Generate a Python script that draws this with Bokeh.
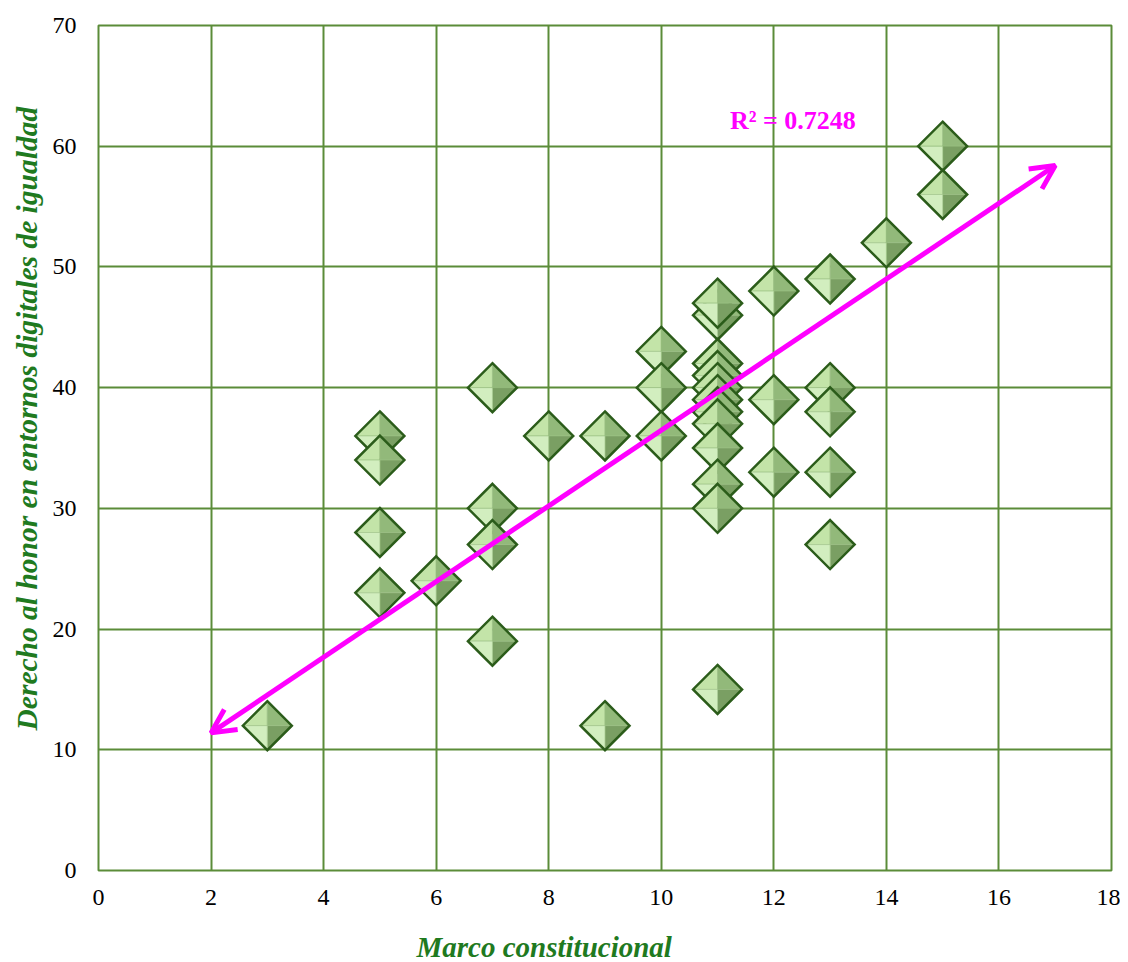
import math
from bokeh.plotting import figure
from bokeh.models import ColumnDataSource, Arrow, OpenHead, Label, FixedTicker, Range1d, Title
from bokeh.embed import file_html
from bokeh.resources import INLINE

# Data
marco = [3, 5, 5, 5, 5, 6, 7, 7, 7, 7, 8, 9, 9, 10, 10, 10,
         11, 11, 11, 11, 11, 11, 11, 11, 11, 11, 11, 11,
         12, 12, 12, 13, 13, 13, 13, 13, 14, 15, 15]
derecho = [12, 36, 34, 28, 23, 24, 40, 30, 27, 19, 36, 36, 12, 43, 40, 36,
           46, 47, 42, 41, 40, 39, 38, 37, 35, 32, 30, 15,
           48, 39, 33, 49, 40, 38, 33, 27, 52, 60, 56]
trend_x = [2, 17]
trend_y = [11.4, 58.4]
x_ticks = [0, 2, 4, 6, 8, 10, 12, 14, 16, 18]
y_ticks = [0, 10, 20, 30, 40, 50, 60, 70]
r2_text = "R² = 0.7248"
x_title = "Marco constitucional"
y_title = "Derecho al honor en entornos digitales de igualdad"

FONT = "Liberation Serif"
GRID = "#5b8c39"
LABEL_GREEN = "#1f7a1f"

X0, X1, Y0, Y1 = 0, 18, 0, 70
FW, FH = 1013, 845

p = figure(frame_width=FW, frame_height=FH,
           min_border_left=98, min_border_right=9, min_border_top=25, min_border_bottom=90,
           x_range=Range1d(X0, X1), y_range=Range1d(Y0, Y1),
           output_backend="svg", toolbar_location=None)

p.outline_line_color = GRID
p.outline_line_width = 2
p.xgrid.grid_line_color = GRID
p.ygrid.grid_line_color = GRID
p.xgrid.grid_line_width = 2
p.ygrid.grid_line_width = 2

p.xaxis.ticker = FixedTicker(ticks=x_ticks)
p.yaxis.ticker = FixedTicker(ticks=y_ticks)
for ax in (p.xaxis[0], p.yaxis[0]):
    ax.axis_line_color = None
    ax.major_tick_line_color = None
    ax.minor_tick_line_color = None
    ax.major_label_text_font = FONT
    ax.major_label_text_font_size = "24px"
    ax.major_label_text_color = "#000000"
p.xaxis.major_label_standoff = 13
p.yaxis.major_label_standoff = 16

# Pyramid-shaped diamond markers: half-diagonal in pixels converted to data units
HALF = 24.5
dx = HALF * (X1 - X0) / FW
dy = HALF * (Y1 - Y0) / FH
facet_cols = ["#c3e4a8", "#92b97a", "#7a9f63", "#d2eebf"]  # top, right, bottom, left
xs, ys, fc, fa, lc, lw = [], [], [], [], [], []
for cx, cy in zip(marco, derecho):
    top = (cx, cy + dy)
    right = (cx + dx, cy)
    bot = (cx, cy - dy)
    left = (cx - dx, cy)
    c = (cx, cy)
    for (a, b), col in zip([(left, top), (top, right), (right, bot), (bot, left)], facet_cols):
        xs.append([a[0], b[0], c[0]])
        ys.append([a[1], b[1], c[1]])
        fc.append(col)
        fa.append(1.0)
        lc.append("#9cc184")
        lw.append(0.6)
    xs.append([top[0], right[0], bot[0], left[0]])
    ys.append([top[1], right[1], bot[1], left[1]])
    fc.append("#ffffff")
    fa.append(0.0)
    lc.append("#2b5c1a")
    lw.append(2.5)

psrc = ColumnDataSource(dict(xs=xs, ys=ys, fc=fc, fa=fa, lc=lc, lw=lw))
p.patches("xs", "ys", source=psrc, fill_color="fc", fill_alpha="fa",
          line_color="lc", line_width="lw", line_join="miter")

p.add_layout(Arrow(x_start=trend_x[0], y_start=trend_y[0], x_end=trend_x[1], y_end=trend_y[1],
                   line_color="#ff00ff", line_width=5,
                   start=OpenHead(size=24, line_color="#ff00ff", line_width=5),
                   end=OpenHead(size=24, line_color="#ff00ff", line_width=5)))

p.add_layout(Label(x=11.22, y=62.1, text=r2_text, text_font=FONT, text_font_size="26px",
                   text_font_style="bold", text_color="#ff00ff", text_baseline="middle"))

# Axis titles as side titles, offset along the frame like the original
p.add_layout(Title(text=x_title, align="left", offset=318, standoff=42,
                   text_font=FONT, text_font_size="29px", text_font_style="bold italic",
                   text_color=LABEL_GREEN), "below")
p.add_layout(Title(text=y_title, align="left", offset=140, standoff=14,
                   text_font=FONT, text_font_size="29.5px", text_font_style="bold italic",
                   text_color=LABEL_GREEN), "left")

open("out.html", "w").write(file_html(p, INLINE))
